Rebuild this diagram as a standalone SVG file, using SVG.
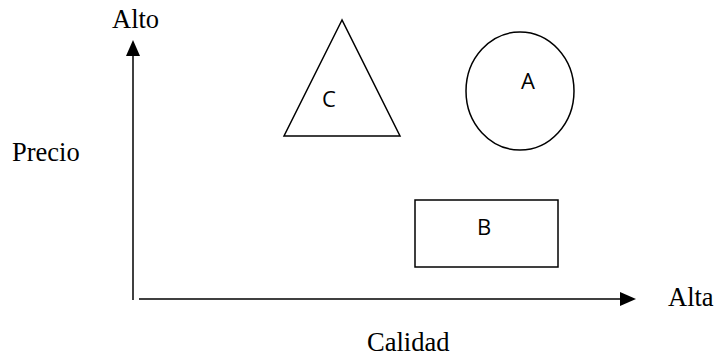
<svg xmlns="http://www.w3.org/2000/svg" width="717" height="361" viewBox="0 0 717 361">
<style>
.serif{font-family:"Liberation Serif","Times New Roman",serif;font-size:26.5px;fill:#000}
.sans{font-family:"Open Sans","Liberation Sans",sans-serif;font-size:22px;fill:#000}
.shape{fill:none;stroke:#000;stroke-width:1.5}
.axis{stroke:#000;stroke-width:1.5;fill:none}
</style>
<g id="connectors">
<line class="axis" x1="133" y1="300" x2="133" y2="50"/>
<line class="axis" x1="139" y1="299" x2="626" y2="299"/>
<path d="M126,56 L133,40 L140,56 Z" fill="#000"/>
<path d="M620,292 L636,299 L620,306 Z" fill="#000"/>
</g>
<g id="label-alto"><text class="serif" x="112" y="28">Alto</text></g>
<g id="label-precio"><text class="serif" x="12" y="161">Precio</text></g>
<g id="label-alta"><text class="serif" x="668" y="306">Alta</text></g>
<g id="label-calidad"><text class="serif" x="367" y="351">Calidad</text></g>
<g id="node-c">
<polygon class="shape" points="342,20 284,136 400,136"/>
<text class="sans" x="322" y="107">C</text>
</g>
<g id="node-a">
<ellipse class="shape" cx="520" cy="91" rx="54" ry="59"/>
<text class="sans" x="521" y="89">A</text>
</g>
<g id="node-b">
<rect class="shape" x="415" y="200" width="143" height="67"/>
<text class="sans" x="477" y="235">B</text>
</g>
</svg>
